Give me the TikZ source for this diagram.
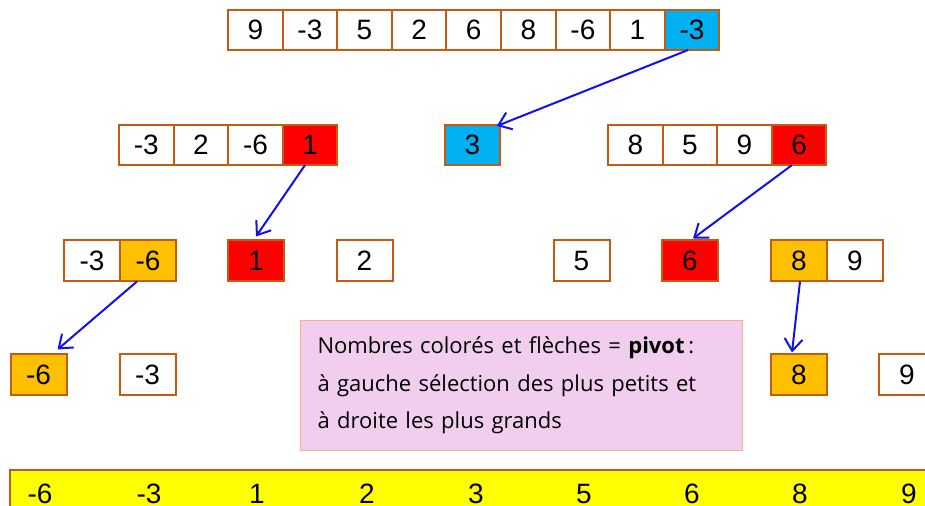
\documentclass[tikz,border=0pt]{standalone}
\usepackage{fontspec}
\setmainfont{Liberation Sans}
\newfontfamily\notefont{Open Sans}
\usetikzlibrary{arrows.meta}
\definecolor{my_brown}{HTML}{C55A11}
\definecolor{my_cyan}{HTML}{00B0F0}
\definecolor{my_red}{HTML}{FF0000}
\definecolor{my_orange}{HTML}{FFC000}
\definecolor{my_yellow}{HTML}{FFFF00}
\definecolor{my_pink}{HTML}{F2CEEE}
\definecolor{my_peach}{HTML}{F8B08A}
\definecolor{my_arrow}{HTML}{1010F5}

\begin{document}
\begin{tikzpicture}[
    x=0.5pt, y=-0.5pt,
    cell/.style={draw=my_brown, line width=1pt, fill=white, inner sep=0pt, outer sep=0pt,
        minimum width=27.3pt, minimum height=20pt, font=\fontsize{14}{16}\selectfont},
    wide/.style={minimum width=28pt, minimum height=20.5pt},
    pivotarrow/.style={my_arrow, line width=1pt, -{Straight Barb[length=6pt, width=9pt]}},
    sorted/.style={anchor=base, inner sep=0pt, font=\fontsize{14}{16}\selectfont},
    note/.style={draw=my_peach, line width=0.6pt, fill=my_pink, align=left, inner xsep=8.5pt,
        text width=204pt, minimum height=65pt, anchor=north west,
        font=\notefont\fontsize{11}{18.75}\selectfont}
]
\useasboundingbox (0, 0) rectangle (925, 506);

% ---- tableau de depart, pivot -3 ----
\node[cell] (t1) at (255.3, 30) {9};
\node[cell] (t2) at (309.9, 30) {-3};
\node[cell] (t3) at (364.5, 30) {5};
\node[cell] (t4) at (419.1, 30) {2};
\node[cell] (t5) at (473.7, 30) {6};
\node[cell] (t6) at (528.3, 30) {8};
\node[cell] (t7) at (582.9, 30) {-6};
\node[cell] (t8) at (637.5, 30) {1};
\node[cell, fill=my_cyan] (t9) at (692.1, 30) {-3};

% ---- premier partage ----
\node[cell] (gauche1) at (146.3, 145) {-3};
\node[cell] (gauche2) at (200.9, 145) {2};
\node[cell] (gauche3) at (255.5, 145) {-6};
\node[cell, fill=my_red] (gauche4) at (310.1, 145) {1};
\node[cell, fill=my_cyan] (milieu) at (472.5, 145) {3};
\node[cell] (droite1) at (635.3, 145) {8};
\node[cell] (droite2) at (689.9, 145) {5};
\node[cell] (droite3) at (744.5, 145) {9};
\node[cell, fill=my_red] (droite4) at (799.1, 145) {6};

% ---- deuxieme partage ----
\node[cell, wide] (gg1) at (92, 261) {-3};
\node[cell, wide, fill=my_orange] (gg2) at (148, 261) {-6};
\node[cell, wide, fill=my_red] (gm) at (256, 261) {1};
\node[cell, wide] (gd) at (364.5, 261) {2};
\node[cell, wide] (dg) at (581.5, 261) {5};
\node[cell, wide, fill=my_red] (dm) at (690, 261) {6};
\node[cell, wide, fill=my_orange] (dd1) at (799, 261) {8};
\node[cell, wide] (dd2) at (855, 261) {9};

% ---- troisieme partage ----
\node[cell, wide, fill=my_orange] (ggg) at (38.5, 375) {-6};
\node[cell, wide] (ggd) at (147.5, 375) {-3};
\node[cell, wide, fill=my_orange] (ddg) at (799, 375) {8};
\node[cell, wide] (ddd) at (907, 375) {9};

% ---- fleches vers les pivots ----
\draw[pivotarrow] ([xshift=-2pt]t9.south) -- ([shift={(-1.5pt, -0.5pt)}]milieu.north east);
\draw[pivotarrow] ([xshift=-2.5pt]gauche4.south) -- ([yshift=2pt]gm.north);
\draw[pivotarrow] ([xshift=-3.5pt]droite4.south) -- ([shift={(1.5pt, 1pt)}]dm.north);
\draw[pivotarrow] ([xshift=-5.5pt]gg2.south) -- ([shift={(-4.5pt, 2.5pt)}]ggg.north east);
\draw[pivotarrow] ([xshift=0.5pt]dd1.south) -- ([shift={(-3.5pt, 1pt)}]ddg.north);

% ---- legende ----
\node[note] (legende) at (300, 320) {Nombres colorés et flèches = \textbf{pivot}\,:\\
    à gauche sélection des plus petits et\\
    à droite les plus grands};

% ---- resultat trie ----
\draw[my_brown, line width=1pt, fill=my_yellow] (10, 470) rectangle (950, 540);
\node[sorted] (s1) at (40, 504) {-6};
\node[sorted] (s2) at (149, 504) {-3};
\node[sorted] (s3) at (257, 504) {1};
\node[sorted] (s4) at (367, 504) {2};
\node[sorted] (s5) at (476, 504) {3};
\node[sorted] (s6) at (584, 504) {5};
\node[sorted] (s7) at (692, 504) {6};
\node[sorted] (s8) at (800, 504) {8};
\node[sorted] (s9) at (909, 504) {9};

\end{tikzpicture}
\end{document}
